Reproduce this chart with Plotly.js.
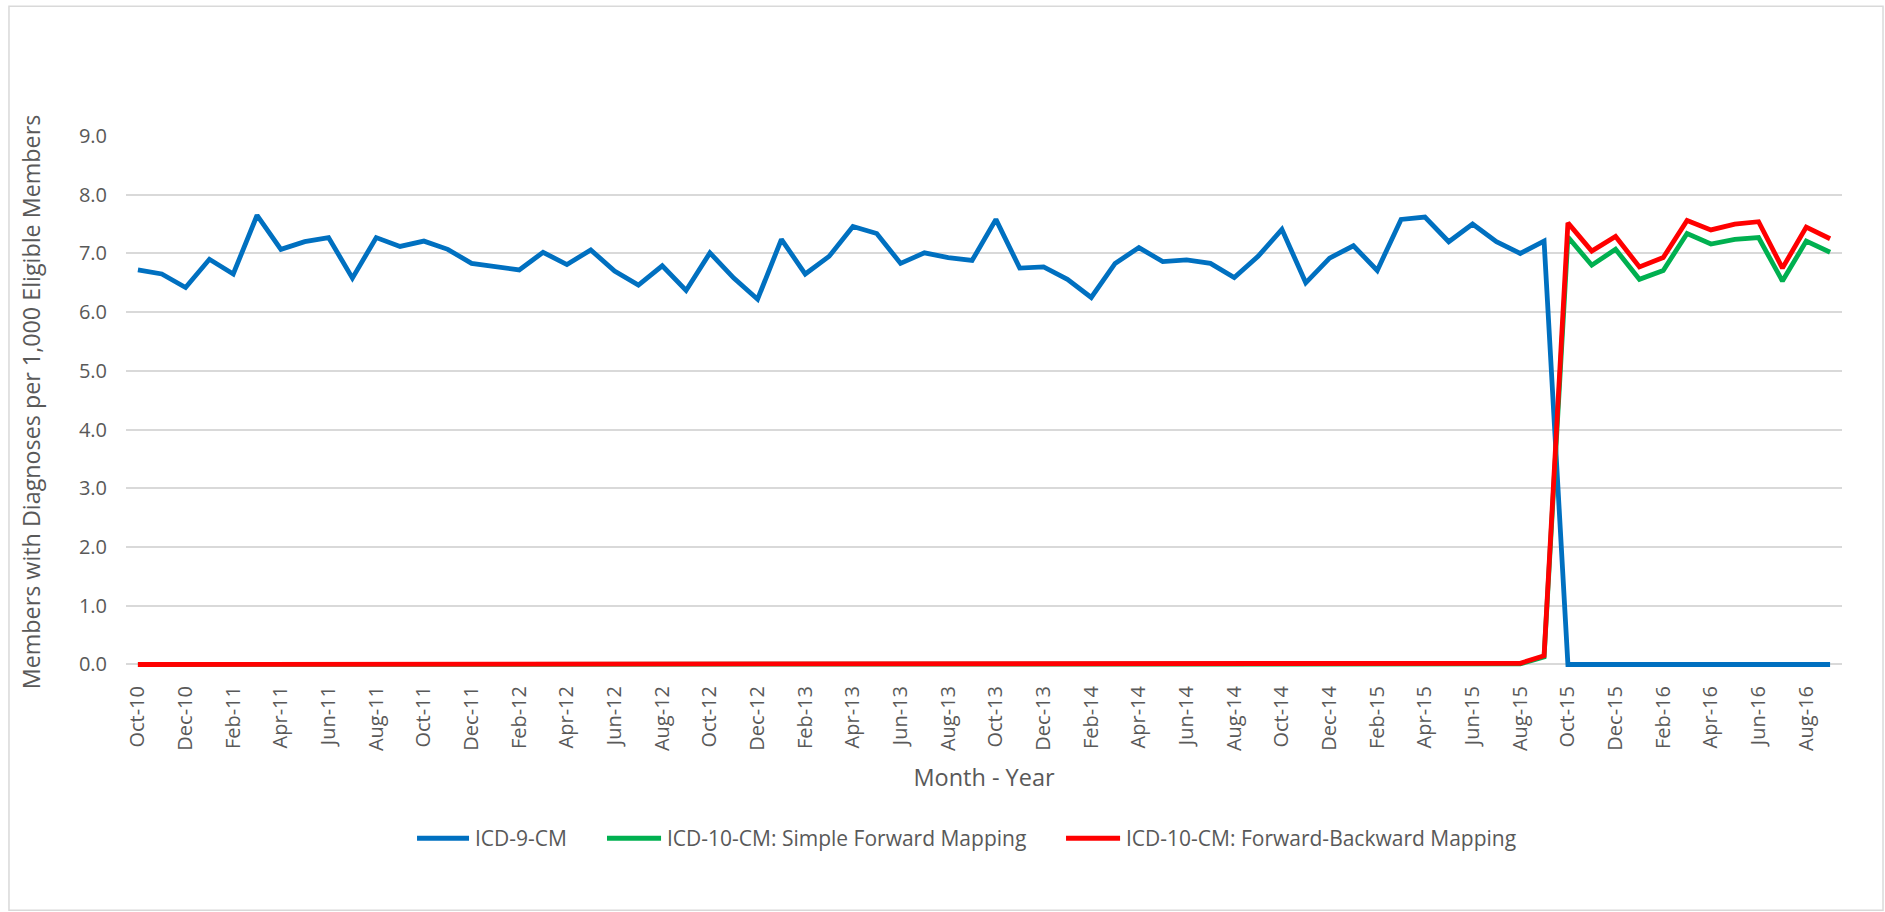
<!DOCTYPE html>
<html>
<head>
<meta charset="utf-8">
<script src="https://cdn.plot.ly/plotly-3.0.1.min.js"></script>
<style>
html, body { margin: 0; padding: 0; background: #ffffff; }
#chart { width: 1885px; height: 912px; }
</style>
</head>
<body>
<div id="chart"></div>
<script>
// ---------- DATA ----------
const months = [
  "Oct-10","Nov-10","Dec-10","Jan-11","Feb-11","Mar-11","Apr-11","May-11","Jun-11","Jul-11","Aug-11","Sep-11",
  "Oct-11","Nov-11","Dec-11","Jan-12","Feb-12","Mar-12","Apr-12","May-12","Jun-12","Jul-12","Aug-12","Sep-12",
  "Oct-12","Nov-12","Dec-12","Jan-13","Feb-13","Mar-13","Apr-13","May-13","Jun-13","Jul-13","Aug-13","Sep-13",
  "Oct-13","Nov-13","Dec-13","Jan-14","Feb-14","Mar-14","Apr-14","May-14","Jun-14","Jul-14","Aug-14","Sep-14",
  "Oct-14","Nov-14","Dec-14","Jan-15","Feb-15","Mar-15","Apr-15","May-15","Jun-15","Jul-15","Aug-15","Sep-15",
  "Oct-15","Nov-15","Dec-15","Jan-16","Feb-16","Mar-16","Apr-16","May-16","Jun-16","Jul-16","Aug-16","Sep-16"
];

const icd9 = [
  6.72, 6.65, 6.42, 6.90, 6.65, 7.65, 7.07, 7.20, 7.27, 6.58, 7.27, 7.12,
  7.21, 7.07, 6.83, 6.77, 6.72, 7.02, 6.81, 7.06, 6.70, 6.46, 6.79, 6.37,
  7.01, 6.58, 6.22, 7.24, 6.65, 6.95, 7.46, 7.34, 6.83, 7.01, 6.93, 6.88,
  7.58, 6.75, 6.77, 6.56, 6.25, 6.83, 7.10, 6.86, 6.89, 6.83, 6.59, 6.95,
  7.41, 6.50, 6.92, 7.13, 6.71, 7.58, 7.62, 7.20, 7.50, 7.20, 7.00, 7.21,
  0, 0, 0, 0, 0, 0, 0, 0, 0, 0, 0, 0
];

const icd10Simple = [
  0, 0, 0, 0, 0, 0, 0, 0, 0, 0, 0, 0,
  0, 0, 0, 0, 0, 0, 0, 0, 0, 0, 0, 0,
  0, 0, 0, 0, 0, 0, 0, 0, 0, 0, 0, 0,
  0, 0, 0, 0, 0, 0, 0, 0, 0, 0, 0, 0,
  0, 0, 0, 0, 0, 0, 0, 0, 0, 0, 0.01, 0.13,
  7.28, 6.80, 7.07, 6.56, 6.71, 7.34, 7.16, 7.24, 7.27, 6.53, 7.21, 7.02
];

const icd10FwdBack = [
  0, 0, 0, 0, 0, 0, 0, 0, 0, 0, 0, 0,
  0, 0, 0, 0, 0, 0, 0, 0, 0, 0, 0, 0,
  0, 0, 0, 0, 0, 0, 0, 0, 0, 0, 0, 0,
  0, 0, 0, 0, 0, 0, 0, 0, 0, 0, 0, 0,
  0, 0, 0, 0, 0, 0, 0, 0, 0, 0, 0.02, 0.15,
  7.52, 7.04, 7.29, 6.77, 6.93, 7.56, 7.40, 7.50, 7.54, 6.75, 7.45, 7.25
];

const seriesNames = [
  "ICD-9-CM",
  "ICD-10-CM: Simple Forward Mapping",
  "ICD-10-CM: Forward-Backward Mapping"
];

const yTickValues = [0, 1, 2, 3, 4, 5, 6, 7, 8, 9];
const xTickLabels = months.filter((m, i) => i % 2 === 0);

// ---------- STYLE ----------
const seriesColors = ["#0070C0", "#00B050", "#FF0000"];
const seriesValues = [icd9, icd10Simple, icd10FwdBack];
const textColor = "#595959";
const gridColor = "#D9D9D9";
const fontFamily = "'Open Sans', 'Noto Sans', sans-serif";

const traces = seriesValues.map((vals, k) => ({
  type: "scatter",
  mode: "lines",
  x: months,
  y: vals,
  name: seriesNames[k],
  line: { color: seriesColors[k], width: 4.8 },
  showlegend: false,
  hoverinfo: "x+y+name"
}));

// custom legend (line swatches + text), paper coordinates
const legendY = -0.3202;
const legendItems = [
  { x0: 0.1696, x1: 0.1999, tx: 0.2025 },
  { x0: 0.2803, x1: 0.3118, tx: 0.3143 },
  { x0: 0.5478, x1: 0.5793, tx: 0.5818 }
];

const shapes = [];
const annotations = [];
legendItems.forEach((it, k) => {
  shapes.push({
    type: "line", xref: "paper", yref: "paper",
    x0: it.x0, x1: it.x1, y0: legendY, y1: legendY,
    line: { color: seriesColors[k], width: 5 }
  });
  annotations.push({
    xref: "paper", yref: "paper", x: it.tx, y: legendY,
    xanchor: "left", yanchor: "middle", showarrow: false,
    text: seriesNames[k],
    font: { family: fontFamily, size: 21, color: textColor }
  });
});

// chart border
shapes.push({
  type: "rect", xref: "paper", yref: "paper",
  x0: -0.0682, x1: 1.0239, y0: -0.4554, y1: 1.2441,
  line: { color: gridColor, width: 1.5 },
  fillcolor: "rgba(0,0,0,0)", layer: "below"
});

const layout = {
  width: 1885,
  height: 912,
  margin: { l: 126, r: 43, t: 136, b: 243.5, pad: 0 },
  paper_bgcolor: "#ffffff",
  plot_bgcolor: "#ffffff",
  showlegend: false,
  font: { family: fontFamily, color: textColor },
  xaxis: {
    type: "category",
    range: [-0.5, months.length - 0.5],
    tickmode: "array",
    tickvals: xTickLabels,
    ticktext: xTickLabels,
    tickangle: -90,
    tickfont: { family: fontFamily, size: 20, color: textColor },
    ticks: "",
    ticklabelstandoff: 13,
    showgrid: false,
    showline: false,
    zeroline: false,
    automargin: false,
    title: {
      text: "Month - Year",
      font: { family: fontFamily, size: 23.5, color: textColor },
      standoff: 19
    }
  },
  yaxis: {
    range: [-0.06, 9],
    tickmode: "array",
    tickvals: yTickValues,
    tickformat: ".1f",
    tickfont: { family: fontFamily, size: 20, color: textColor },
    ticks: "",
    ticklabelstandoff: 18,
    showgrid: true,
    gridcolor: gridColor,
    gridwidth: 1.5,
    zeroline: true,
    zerolinecolor: gridColor,
    zerolinewidth: 1.5,
    showline: false,
    automargin: false,
    title: {
      text: "Members with Diagnoses per 1,000 Eligible Members",
      font: { family: fontFamily, size: 23.3, color: textColor },
      standoff: 31
    }
  },
  shapes: shapes,
  annotations: annotations
};

Plotly.newPlot("chart", traces, layout, { displayModeBar: false, staticPlot: false });
</script>
</body>
</html>
